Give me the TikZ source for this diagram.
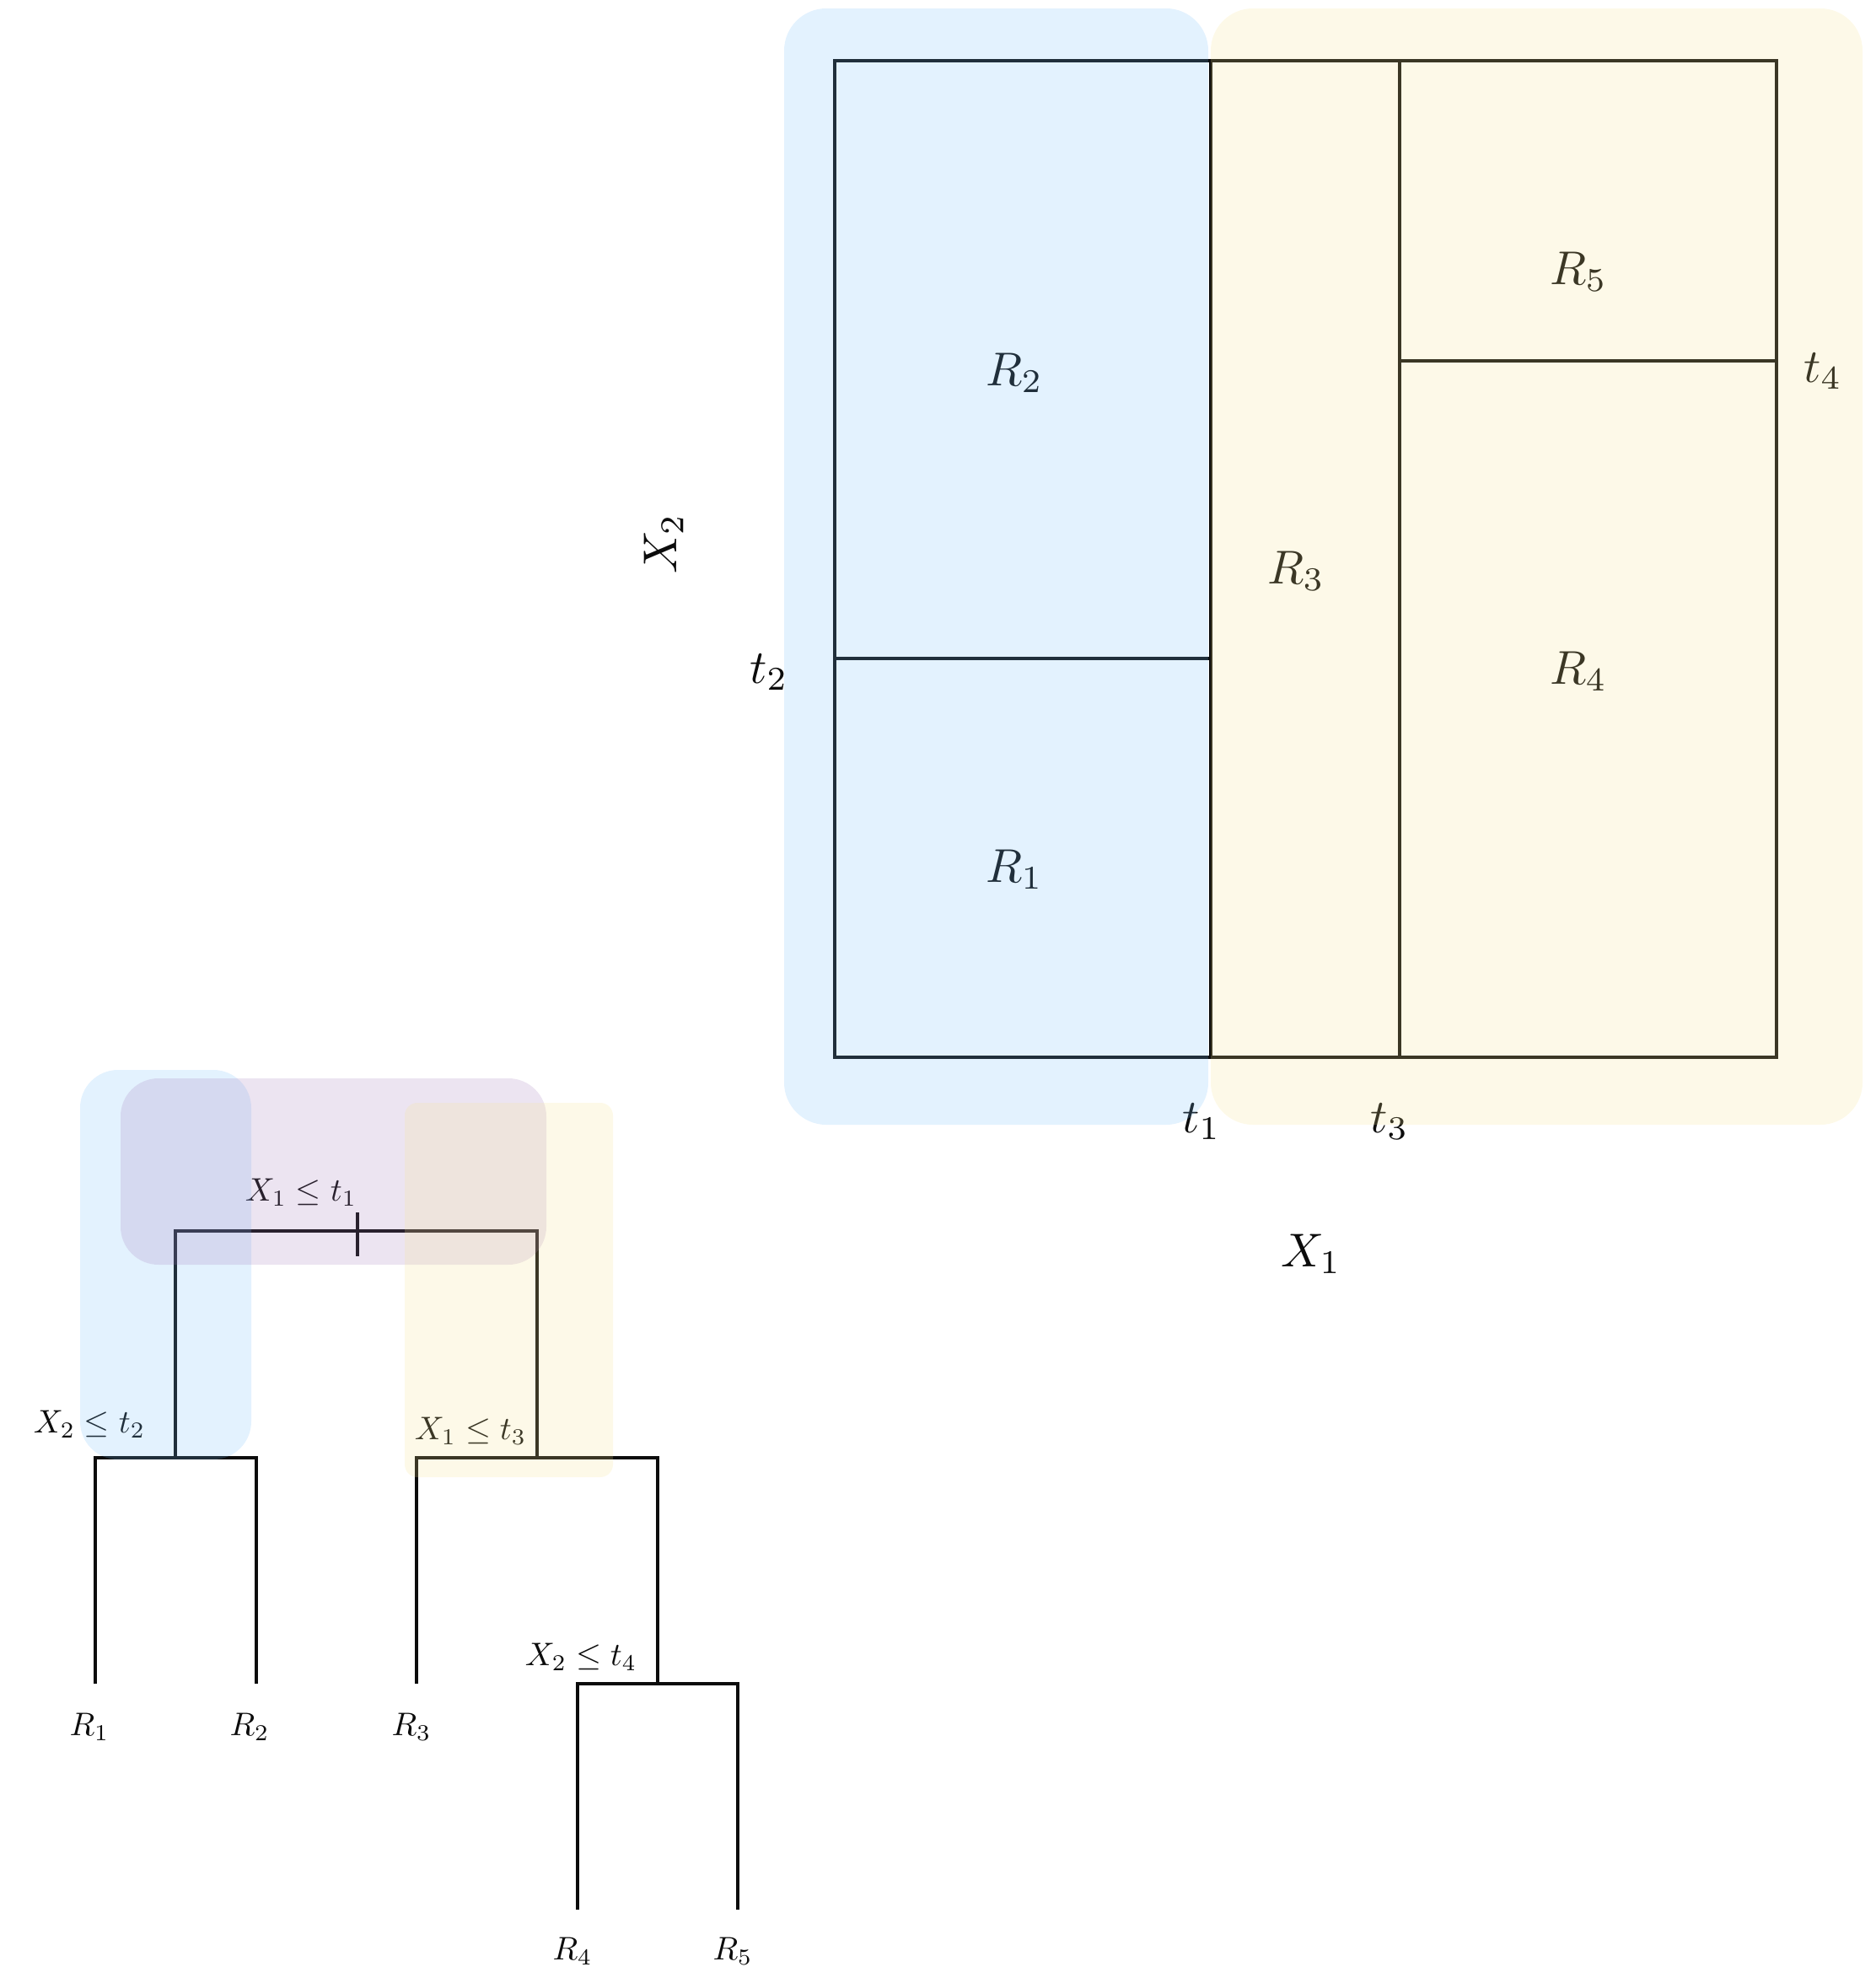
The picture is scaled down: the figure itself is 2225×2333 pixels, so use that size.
\documentclass[tikz,border=0pt]{standalone}
\begin{document}
\definecolor{regblue}{RGB}{115,188,248}
\definecolor{regpurple}{RGB}{160,120,185}
\definecolor{regyellow}{RGB}{247,227,140}
\definecolor{ink}{RGB}{12,12,12}
\begin{tikzpicture}[x=0.01cm,y=-0.01cm,
  edge/.style={draw=ink,line width=1pt},
  biglabel/.style={text=ink,scale=1.6,inner sep=0pt},
  smalllabel/.style={text=ink,scale=1.1,inner sep=0pt},
  shade/.style={fill opacity=0.2,draw=none}]
\useasboundingbox (0,0) rectangle (2225,2333);

% ---------- partition of the feature space ----------
\coordinate (bl) at (990,1254);
\coordinate (tr) at (2107,72);
\coordinate (s1b) at (1436,1254);
\coordinate (s1t) at (1436,72);
\coordinate (s2l) at (990,781);
\coordinate (s2r) at (1436,781);
\coordinate (s3b) at (1660,1254);
\coordinate (s3t) at (1660,72);
\coordinate (s4l) at (1660,428);
\coordinate (s4r) at (2107,428);

\draw[edge] (bl) rectangle (tr);
\draw[edge] (s1b) -- (s1t);
\draw[edge] (s2l) -- (s2r);
\draw[edge] (s3b) -- (s3t);
\draw[edge] (s4l) -- (s4r);

\node[biglabel] (lR2) at (1203,442) {$R_2$};
\node[biglabel] (lR1) at (1203,1031) {$R_1$};
\node[biglabel] (lR3) at (1537,677) {$R_3$};
\node[biglabel] (lR5) at (1872,322) {$R_5$};
\node[biglabel] (lR4) at (1872,796) {$R_4$};
\node[biglabel] (lt4) at (2162,440) {$t_4$};
\node[biglabel] (lt2) at (912,797) {$t_2$};
\node[biglabel] (lt1) at (1425,1330) {$t_1$};
\node[biglabel] (lt3) at (1648,1330) {$t_3$};
\node[biglabel] (lX1) at (1555,1487) {$X_1$};
\node[biglabel,rotate=90] (lX2) at (787,645) {$X_2$};

% ---------- the tree ----------
\coordinate (root) at (424,1460);
\coordinate (ticktop) at (424,1438);
\coordinate (tickbot) at (424,1490);
\coordinate (na) at (208,1729);
\coordinate (nb) at (637,1729);
\coordinate (nc) at (780,1997);
\coordinate (leaf1) at (113,1997);
\coordinate (leaf2) at (304,1997);
\coordinate (leaf3) at (494,1997);
\coordinate (leaf4) at (685,2265);
\coordinate (leaf5) at (875,2265);

\draw[edge] (na) |- (root) -| (nb);
\draw[edge,line width=1.4pt] (ticktop) -- (tickbot);
\draw[edge] (leaf1) |- (na) -| (leaf2);
\draw[edge] (leaf3) |- (nb) -| (nc);
\draw[edge] (leaf4) |- (nc) -| (leaf5);

\node[smalllabel] (sp1) at (357,1414) {$X_1\leq t_1$};
\node[smalllabel] (sp2) at (106,1689) {$X_2\leq t_2$};
\node[smalllabel] (sp3) at (558,1697) {$X_1\leq t_3$};
\node[smalllabel] (sp4) at (689,1965) {$X_2\leq t_4$};

\node[smalllabel] (tR1) at (106,2048) {$R_1$};
\node[smalllabel] (tR2) at (296,2048) {$R_2$};
\node[smalllabel] (tR3) at (488,2048) {$R_3$};
\node[smalllabel] (tR4) at (679,2314) {$R_4$};
\node[smalllabel] (tR5) at (869,2314) {$R_5$};

% ---------- translucent highlights laid over everything ----------
\fill[shade,fill=regblue,rounded corners=0.5cm] (930,10) rectangle (1433,1334);
\fill[shade,fill=regyellow,rounded corners=0.5cm] (1436,10) rectangle (2209,1334);

\fill[shade,fill=regblue,rounded corners=0.45cm] (95,1269) rectangle (298,1731);
\fill[shade,fill=regpurple,rounded corners=0.45cm] (143,1279) rectangle (648,1500);
\fill[shade,fill=regyellow,rounded corners=0.15cm] (480,1308) rectangle (727,1752);
\end{tikzpicture}
\end{document}
